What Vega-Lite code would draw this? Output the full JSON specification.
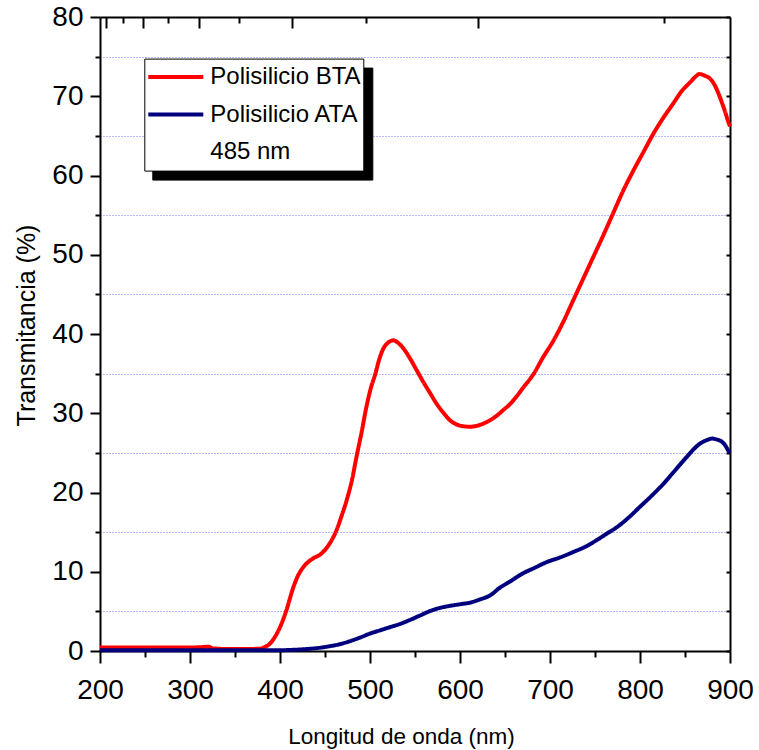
{
  "$schema": "https://vega.github.io/schema/vega-lite/v6.json",
  "width": 630,
  "height": 634,
  "autosize": "none",
  "padding": {"left": 100, "top": 17, "right": 29, "bottom": 99},
  "background": "white",
  "config": {
    "view": {"stroke": null},
    "axis": {
      "domainColor": "black",
      "domainWidth": 2,
      "tickColor": "black",
      "tickWidth": 2,
      "labelColor": "black",
      "titleColor": "black",
      "titleFontWeight": "normal",
      "labelFont": "Liberation Sans",
      "labelFontSize": 28
    },
    "legend": {
      "labelFont": "Liberation Sans",
      "labelFontSize": 24,
      "labelColor": "black",
      "symbolType": "stroke",
      "symbolSize": 3025,
      "symbolStrokeWidth": 4,
      "clipHeight": 33,
      "rowPadding": 4.5,
      "padding": 2,
      "labelOffset": 5,
      "orient": "none",
      "labelLimit": 400
    }
  },
  "data": {
    "values": [
      {"s": "Polisilicio BTA", "x": 200, "y": 0.45},
      {"s": "Polisilicio BTA", "x": 240, "y": 0.45},
      {"s": "Polisilicio BTA", "x": 280, "y": 0.45},
      {"s": "Polisilicio BTA", "x": 300, "y": 0.45},
      {"s": "Polisilicio BTA", "x": 315, "y": 0.5},
      {"s": "Polisilicio BTA", "x": 320, "y": 0.55},
      {"s": "Polisilicio BTA", "x": 325, "y": 0.35},
      {"s": "Polisilicio BTA", "x": 330, "y": 0.3},
      {"s": "Polisilicio BTA", "x": 340, "y": 0.25},
      {"s": "Polisilicio BTA", "x": 360, "y": 0.25},
      {"s": "Polisilicio BTA", "x": 378, "y": 0.3},
      {"s": "Polisilicio BTA", "x": 383, "y": 0.5},
      {"s": "Polisilicio BTA", "x": 389, "y": 0.95},
      {"s": "Polisilicio BTA", "x": 395, "y": 1.9},
      {"s": "Polisilicio BTA", "x": 400, "y": 3.0},
      {"s": "Polisilicio BTA", "x": 407, "y": 5.1},
      {"s": "Polisilicio BTA", "x": 415, "y": 8.1},
      {"s": "Polisilicio BTA", "x": 420, "y": 9.5},
      {"s": "Polisilicio BTA", "x": 426, "y": 10.6},
      {"s": "Polisilicio BTA", "x": 431, "y": 11.2},
      {"s": "Polisilicio BTA", "x": 437, "y": 11.7},
      {"s": "Polisilicio BTA", "x": 445, "y": 12.2},
      {"s": "Polisilicio BTA", "x": 451, "y": 12.9},
      {"s": "Polisilicio BTA", "x": 457, "y": 13.9},
      {"s": "Polisilicio BTA", "x": 463, "y": 15.3},
      {"s": "Polisilicio BTA", "x": 468, "y": 16.9},
      {"s": "Polisilicio BTA", "x": 474, "y": 19.0},
      {"s": "Polisilicio BTA", "x": 480, "y": 21.6},
      {"s": "Polisilicio BTA", "x": 485, "y": 24.5},
      {"s": "Polisilicio BTA", "x": 491, "y": 27.8},
      {"s": "Polisilicio BTA", "x": 496, "y": 30.8},
      {"s": "Polisilicio BTA", "x": 501, "y": 33.2},
      {"s": "Polisilicio BTA", "x": 506, "y": 35.0},
      {"s": "Polisilicio BTA", "x": 510, "y": 36.7},
      {"s": "Polisilicio BTA", "x": 515, "y": 38.2},
      {"s": "Polisilicio BTA", "x": 520, "y": 38.9},
      {"s": "Polisilicio BTA", "x": 526, "y": 39.2},
      {"s": "Polisilicio BTA", "x": 531, "y": 38.9},
      {"s": "Polisilicio BTA", "x": 537, "y": 38.2},
      {"s": "Polisilicio BTA", "x": 544, "y": 37.0},
      {"s": "Polisilicio BTA", "x": 552, "y": 35.4},
      {"s": "Polisilicio BTA", "x": 560, "y": 33.8},
      {"s": "Polisilicio BTA", "x": 567, "y": 32.5},
      {"s": "Polisilicio BTA", "x": 574, "y": 31.2},
      {"s": "Polisilicio BTA", "x": 582, "y": 30.0},
      {"s": "Polisilicio BTA", "x": 589, "y": 29.1},
      {"s": "Polisilicio BTA", "x": 596, "y": 28.6},
      {"s": "Polisilicio BTA", "x": 604, "y": 28.35},
      {"s": "Polisilicio BTA", "x": 611, "y": 28.3},
      {"s": "Polisilicio BTA", "x": 618, "y": 28.4},
      {"s": "Polisilicio BTA", "x": 626, "y": 28.7},
      {"s": "Polisilicio BTA", "x": 633, "y": 29.1},
      {"s": "Polisilicio BTA", "x": 641, "y": 29.7},
      {"s": "Polisilicio BTA", "x": 648, "y": 30.4},
      {"s": "Polisilicio BTA", "x": 656, "y": 31.2},
      {"s": "Polisilicio BTA", "x": 662, "y": 32.0},
      {"s": "Polisilicio BTA", "x": 670, "y": 33.2},
      {"s": "Polisilicio BTA", "x": 682, "y": 35.0},
      {"s": "Polisilicio BTA", "x": 692, "y": 37.0},
      {"s": "Polisilicio BTA", "x": 704, "y": 39.2},
      {"s": "Polisilicio BTA", "x": 715, "y": 41.6},
      {"s": "Polisilicio BTA", "x": 726, "y": 44.3},
      {"s": "Polisilicio BTA", "x": 737, "y": 47.0},
      {"s": "Polisilicio BTA", "x": 748, "y": 49.7},
      {"s": "Polisilicio BTA", "x": 759, "y": 52.4},
      {"s": "Polisilicio BTA", "x": 770, "y": 55.2},
      {"s": "Polisilicio BTA", "x": 781, "y": 58.0},
      {"s": "Polisilicio BTA", "x": 793, "y": 60.7},
      {"s": "Polisilicio BTA", "x": 804, "y": 63.0},
      {"s": "Polisilicio BTA", "x": 815, "y": 65.3},
      {"s": "Polisilicio BTA", "x": 826, "y": 67.3},
      {"s": "Polisilicio BTA", "x": 837, "y": 69.1},
      {"s": "Polisilicio BTA", "x": 846, "y": 70.6},
      {"s": "Polisilicio BTA", "x": 856, "y": 71.8},
      {"s": "Polisilicio BTA", "x": 862, "y": 72.5},
      {"s": "Polisilicio BTA", "x": 866, "y": 72.8},
      {"s": "Polisilicio BTA", "x": 872, "y": 72.6},
      {"s": "Polisilicio BTA", "x": 878, "y": 72.2},
      {"s": "Polisilicio BTA", "x": 883, "y": 71.4},
      {"s": "Polisilicio BTA", "x": 887, "y": 70.4},
      {"s": "Polisilicio BTA", "x": 891, "y": 69.2},
      {"s": "Polisilicio BTA", "x": 895, "y": 67.9},
      {"s": "Polisilicio BTA", "x": 898, "y": 66.8},
      {"s": "Polisilicio BTA", "x": 900, "y": 66.2},
      {"s": "Polisilicio ATA", "x": 200, "y": 0.1},
      {"s": "Polisilicio ATA", "x": 300, "y": 0.1},
      {"s": "Polisilicio ATA", "x": 400, "y": 0.1},
      {"s": "Polisilicio ATA", "x": 415, "y": 0.15},
      {"s": "Polisilicio ATA", "x": 430, "y": 0.25},
      {"s": "Polisilicio ATA", "x": 440, "y": 0.35},
      {"s": "Polisilicio ATA", "x": 455, "y": 0.6},
      {"s": "Polisilicio ATA", "x": 466, "y": 0.85},
      {"s": "Polisilicio ATA", "x": 478, "y": 1.25},
      {"s": "Polisilicio ATA", "x": 489, "y": 1.7},
      {"s": "Polisilicio ATA", "x": 500, "y": 2.2},
      {"s": "Polisilicio ATA", "x": 511, "y": 2.6},
      {"s": "Polisilicio ATA", "x": 522, "y": 3.0},
      {"s": "Polisilicio ATA", "x": 533, "y": 3.4},
      {"s": "Polisilicio ATA", "x": 544, "y": 3.9},
      {"s": "Polisilicio ATA", "x": 555, "y": 4.45},
      {"s": "Polisilicio ATA", "x": 567, "y": 5.05},
      {"s": "Polisilicio ATA", "x": 578, "y": 5.45},
      {"s": "Polisilicio ATA", "x": 589, "y": 5.7},
      {"s": "Polisilicio ATA", "x": 600, "y": 5.9},
      {"s": "Polisilicio ATA", "x": 611, "y": 6.1},
      {"s": "Polisilicio ATA", "x": 622, "y": 6.5},
      {"s": "Polisilicio ATA", "x": 633, "y": 7.0},
      {"s": "Polisilicio ATA", "x": 637, "y": 7.3},
      {"s": "Polisilicio ATA", "x": 641, "y": 7.7},
      {"s": "Polisilicio ATA", "x": 656, "y": 8.8},
      {"s": "Polisilicio ATA", "x": 670, "y": 9.8},
      {"s": "Polisilicio ATA", "x": 683, "y": 10.5},
      {"s": "Polisilicio ATA", "x": 696, "y": 11.2},
      {"s": "Polisilicio ATA", "x": 711, "y": 11.8},
      {"s": "Polisilicio ATA", "x": 726, "y": 12.5},
      {"s": "Polisilicio ATA", "x": 740, "y": 13.2},
      {"s": "Polisilicio ATA", "x": 752, "y": 14.0},
      {"s": "Polisilicio ATA", "x": 763, "y": 14.8},
      {"s": "Polisilicio ATA", "x": 774, "y": 15.6},
      {"s": "Polisilicio ATA", "x": 787, "y": 16.8},
      {"s": "Polisilicio ATA", "x": 800, "y": 18.2},
      {"s": "Polisilicio ATA", "x": 813, "y": 19.6},
      {"s": "Polisilicio ATA", "x": 826, "y": 21.1},
      {"s": "Polisilicio ATA", "x": 839, "y": 22.8},
      {"s": "Polisilicio ATA", "x": 852, "y": 24.5},
      {"s": "Polisilicio ATA", "x": 860, "y": 25.5},
      {"s": "Polisilicio ATA", "x": 867, "y": 26.2},
      {"s": "Polisilicio ATA", "x": 874, "y": 26.6},
      {"s": "Polisilicio ATA", "x": 880, "y": 26.8},
      {"s": "Polisilicio ATA", "x": 885, "y": 26.7},
      {"s": "Polisilicio ATA", "x": 891, "y": 26.4},
      {"s": "Polisilicio ATA", "x": 895, "y": 25.9},
      {"s": "Polisilicio ATA", "x": 898, "y": 25.3},
      {"s": "Polisilicio ATA", "x": 900, "y": 25.0}
    ]
  },
  "layer": [
    {
      "mark": {"type": "line", "strokeWidth": 4, "interpolate": "monotone"},
      "encoding": {
        "x": {
          "field": "x", "type": "quantitative",
          "scale": {"domain": [200, 900], "nice": false, "zero": false},
          "axis": {
            "orient": "bottom",
            "values": [200, 250, 300, 350, 400, 450, 500, 550, 600, 650, 700, 750, 800, 850, 900],
            "labelExpr": "datum.value % 100 === 0 ? datum.label : ''",
            "tickSize": {"condition": {"test": "datum.value % 100 === 0", "value": 12}, "value": 6},
            "labelPadding": 13,
            "labelFlush": false,
            "labelOverlap": false,
            "grid": false,
            "title": "Longitud de onda (nm)",
            "titleFont": "Liberation Sans",
            "titleFontSize": 22.5,
            "titleX": 301,
            "titleY": 92.6,
            "titleAlign": "center",
            "titleBaseline": "alphabetic"
          }
        },
        "y": {
          "field": "y", "type": "quantitative",
          "scale": {"domain": [0, 80], "nice": false, "zero": false},
          "axis": {
            "orient": "left",
            "values": [0, 5, 10, 15, 20, 25, 30, 35, 40, 45, 50, 55, 60, 65, 70, 75, 80],
            "labelExpr": "datum.value % 10 === 0 ? datum.label : ''",
            "tickSize": {"condition": {"test": "datum.value % 10 === 0", "value": 10}, "value": 5},
            "labelPadding": 7,
            "labelFlush": false,
            "labelOverlap": false,
            "grid": true,
            "gridColor": "#6f6fff",
            "gridWidth": 1,
            "gridDash": [1, 2],
            "gridOpacity": {"condition": {"test": "datum.value % 10 === 5", "value": 1}, "value": 0},
            "title": "Transmitancia (%)",
            "titleFont": "Liberation Sans",
            "titleFontSize": 25,
            "titleX": -66,
            "titleY": 308,
            "titleAngle": -90,
            "titleAlign": "center",
            "titleBaseline": "alphabetic"
          }
        },
        "color": {
          "field": "s", "type": "nominal",
          "scale": {"domain": ["Polisilicio BTA", "Polisilicio ATA", "485 nm"], "range": ["#ff0000", "#00007f", "rgba(0,0,0,0)"]},
          "legend": {
            "title": null,
            "fillColor": "white",
            "strokeColor": "black",
            "legendX": 44.3,
            "legendY": 41.6,
            "zindex": 3
          }
        },
        "strokeDash": {
          "field": "s", "type": "nominal",
          "scale": {"domain": ["Polisilicio BTA", "Polisilicio ATA", "485"], "range": [[1, 0], [1, 0], [1, 0]]},
          "legend": {
            "title": null,
            "fillColor": "black",
            "strokeColor": "black",
            "labelColor": "black",
            "labelExpr": "''",
            "labelOffset": 157,
            "symbolStrokeColor": "black",
            "legendX": 52.3,
            "legendY": 50.6,
            "zindex": 2
          }
        }
      }
    },
    {
      "mark": {"type": "line", "opacity": 0},
      "encoding": {
        "detail": {"field": "s", "type": "nominal"},
        "x": {
          "field": "x", "type": "quantitative",
          "axis": {
            "orient": "top",
            "values": [206.67, 225.45, 248, 275.56, 310, 354.29, 413.33, 496, 620, 826.67],
            "labels": false,
            "grid": false,
            "title": null,
            "tickSize": {"condition": {"test": "indexof([206.67, 248, 310, 413.33, 620], datum.value) >= 0", "value": -11}, "value": -6}
          }
        },
        "y": {
          "field": "y", "type": "quantitative",
          "axis": {
            "orient": "right",
            "values": [0, 5, 10, 15, 20, 25, 30, 35, 40, 45, 50, 55, 60, 65, 70, 75, 80],
            "labels": false,
            "grid": false,
            "title": null,
            "tickSize": -4
          }
        }
      }
    }
  ],
  "resolve": {"axis": {"x": "independent", "y": "independent"}}
}
